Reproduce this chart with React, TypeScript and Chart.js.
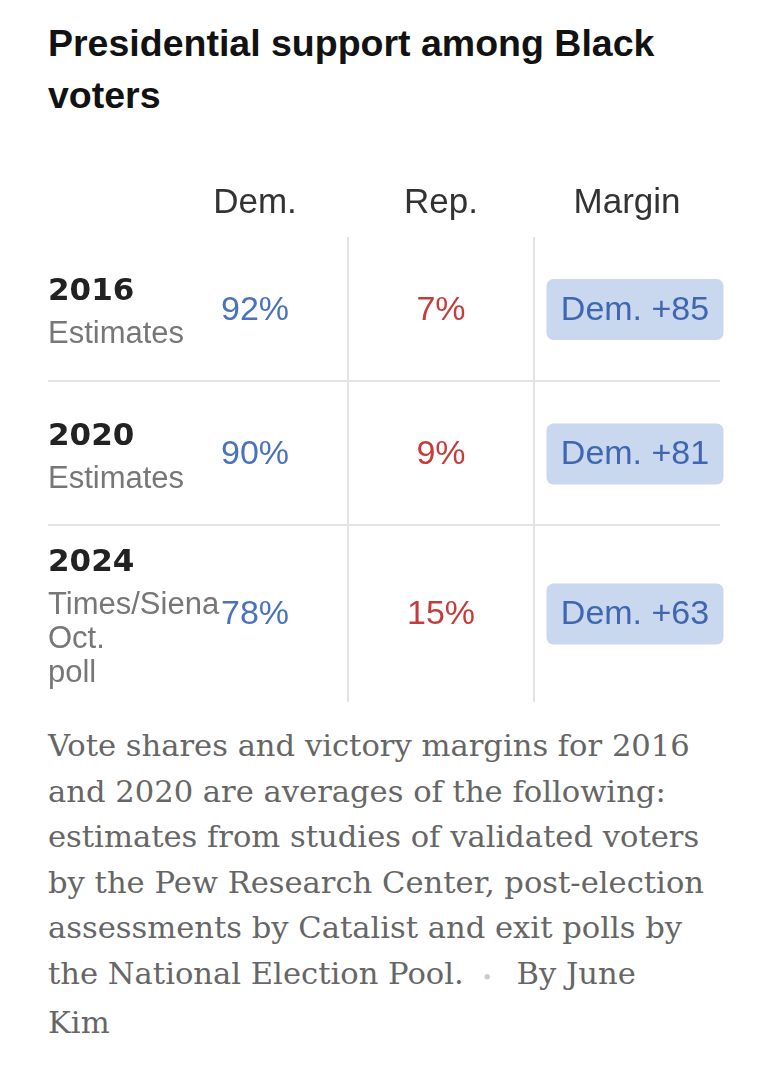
import React, { useEffect, useRef } from 'react';
import { Chart, registerables } from 'chart.js';

Chart.register(...registerables);

const columns = ['Dem.', 'Rep.', 'Margin'];
const years = ['2016', '2020', '2024'];
const sources = [['Estimates'], ['Estimates'], ['Times/Siena', 'Oct.', 'poll']];
const demShare = [92, 90, 78];
const repShare = [7, 9, 15];
const demMargin = [85, 81, 63];

const BLUE = '#4a72bf';
const RED = '#c63b3b';
const BOX = '#c9d8ee';
const BOX_TEXT = '#3f66b1';
const RULE = '#e3e3e3';
const SANS = '"Liberation Sans", Arial, sans-serif';

const LABEL_COL = 114;
const OVERHANG = 10; // the margin pill pokes past the table's right edge
const HEADER_H = 116;
const ROW_H = [145, 144, 176];

// draws the cell contents on top of the scatter points of each row
const tableCells = {
  id: 'tableCells',

  afterDatasetsDraw(chart: any, _args: any, opts: any) {
    const { ctx, chartArea } = chart;
    const x = chart.scales.x;
    ctx.save();
    ctx.textBaseline = 'alphabetic';

    if (opts.row < 0) {
      ctx.font = `35px ${SANS}`;
      ctx.fillStyle = '#333';
      ctx.textAlign = 'center';
      columns.forEach((c, i) => ctx.fillText(c, x.getPixelForValue(i), chartArea.bottom - 24));
      ctx.restore();
      return;
    }

    const r = opts.row;
    const pts = chart.getDatasetMeta(0).data;
    const cy = pts[0].y;

    if (opts.rule) {
      ctx.strokeStyle = RULE;
      ctx.lineWidth = 2;
      ctx.beginPath();
      ctx.moveTo(0, chartArea.bottom - 1);
      ctx.lineTo(chartArea.right, chartArea.bottom - 1);
      ctx.stroke();
    }

    // row heading: year + source lines
    const subs = sources[r];
    let base = cy - (43 + 34 * (subs.length - 1)) / 2 + 12;
    ctx.textAlign = 'left';
    ctx.font = 'bold 31px "DejaVu Sans", sans-serif';
    ctx.fillStyle = '#222';
    ctx.fillText(years[r], 0, base);
    ctx.font = `31px ${SANS}`;
    ctx.fillStyle = '#777';
    base += 43;
    subs.forEach((s) => {
      ctx.fillText(s, 0, base);
      base += 34;
    });

    ctx.textAlign = 'center';
    ctx.font = `34px ${SANS}`;
    ctx.fillStyle = BLUE;
    ctx.fillText(`${demShare[r]}%`, pts[0].x, cy + 10);
    ctx.fillStyle = RED;
    ctx.fillText(`${repShare[r]}%`, pts[1].x, cy + 10);

    // margin pill
    const bx = pts[2].x + 8;
    ctx.fillStyle = BOX;
    ctx.beginPath();
    ctx.roundRect(bx - 88.5, cy - 30.5, 177, 61, 7);
    ctx.fill();
    ctx.fillStyle = BOX_TEXT;
    ctx.fillText(`Dem. +${demMargin[r]}`, bx, cy + 10);

    ctx.restore();
  },
};

const TableRow: React.FC<{ row: number; height: number; rule?: boolean }> = ({ row, height, rule }) => {
  const canvasRef = useRef<HTMLCanvasElement>(null);

  useEffect(() => {
    if (!canvasRef.current) return;
    const header = row < 0;
    const label = header ? '' : years[row];

    const chart = new Chart(canvasRef.current, {
      type: 'scatter',
      data: {
        datasets: [{ data: columns.map((c) => ({ x: c, y: label })), pointRadius: 0 }],
      },
      options: {
        animation: false,
        responsive: true,
        maintainAspectRatio: false,
        events: [],
        layout: { padding: { left: LABEL_COL, right: OVERHANG, top: 0, bottom: 0 } },
        scales: {
          x: {
            type: 'category',
            labels: columns,
            offset: true,
            border: { display: false },
            ticks: { display: false },
            grid: {
              display: !header,
              offset: true,
              drawTicks: false,
              lineWidth: 2,
              color: (c: any) => (c.type === 'tick' && c.index > 0 ? RULE : 'rgba(0,0,0,0)'),
            },
          },
          y: { type: 'category', labels: [label], offset: true, display: false },
        },
        plugins: {
          legend: { display: false },
          tooltip: { enabled: false },
          tableCells: { row, rule: !!rule },
        } as any,
      },
      plugins: [tableCells],
    });

    return () => chart.destroy();
  }, [row, rule]);

  return (
    <div style={{ position: 'relative', height, marginRight: -OVERHANG }}>
      <canvas ref={canvasRef} />
    </div>
  );
};

const App: React.FC = () => {
  return (
    <div style={{ padding: '0 40px', background: '#fff' }}>
      <h1
        style={{
          margin: '9px 0 0',
          font: `bold 37.5px/52px ${SANS}`,
          color: '#121212',
        }}
      >
        Presidential support among Black voters
      </h1>
      <TableRow row={-1} height={HEADER_H} />
      {years.map((y, i) => (
        <TableRow key={y} row={i} height={ROW_H[i]} rule={i < years.length - 1} />
      ))}
      <p
        style={{
          margin: '21px 0 0',
          font: '30.6px/45.5px "DejaVu Serif", serif',
          color: '#666',
          whiteSpace: 'nowrap',
        }}
      >
        Vote shares and victory margins for 2016
        <br />
        and 2020 are averages of the following:
        <br />
        estimates from studies of validated voters
        <br />
        by the Pew Research Center, post-election
        <br />
        assessments by Catalist and exit polls by
        <br />
        the National Election Pool.
        <span style={{ color: '#ccc', fontSize: '0.6em', margin: '0 24px 0 18px' }}>•</span>
        By June
        <br />
        Kim
      </p>
    </div>
  );
};

export default App;
